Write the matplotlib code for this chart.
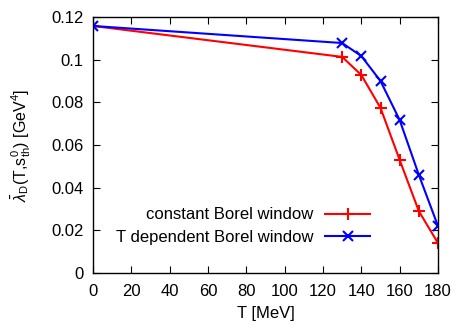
import matplotlib
matplotlib.use("Agg")
import matplotlib.pyplot as plt
from matplotlib.ticker import FuncFormatter

plt.rcParams['font.family'] = ['Liberation Sans', 'DejaVu Sans']
plt.rcParams['mathtext.fontset'] = 'custom'
plt.rcParams['mathtext.rm'] = 'Liberation Sans'
plt.rcParams['mathtext.it'] = 'Liberation Sans:italic'

T = [0, 130, 140, 150, 160, 170, 180]
const_borel = [0.1158, 0.1013, 0.0928, 0.0774, 0.0530, 0.0290, 0.0140]
tdep_borel = [0.1158, 0.1078, 0.1017, 0.0900, 0.0717, 0.0460, 0.0220]
labels = ["constant Borel window", "T dependent Borel window"]
xticks = [0, 20, 40, 60, 80, 100, 120, 140, 160, 180]
yticks = [0, 0.02, 0.04, 0.06, 0.08, 0.1, 0.12]

fs = 12
fig = plt.figure(figsize=(4.69, 3.28), dpi=100)
ax = fig.add_axes([93/469, 1 - 273/328, 345/469, 256/328])

ax.plot(T, const_borel, color='#ff0000', lw=1.5, marker='+', ms=8, mew=1.5, label=labels[0])
ax.plot(T, tdep_borel, color='#0000ff', lw=1.5, marker='x', ms=7, mew=1.5, label=labels[1])

ax.set_xlim(0, 180)
ax.set_ylim(0, 0.12)
ax.set_xticks(xticks)
ax.set_yticks(yticks)
ax.yaxis.set_major_formatter(FuncFormatter(lambda v, p: '%g' % round(v, 4)))
ax.tick_params(direction='in', top=True, right=True, length=5, width=0.8,
               labelsize=fs, colors='black')
ax.tick_params(axis='x', pad=8)
ax.tick_params(axis='y', pad=7)
for s in ax.spines.values():
    s.set_linewidth(1.0)

ax.set_xlabel('T [MeV]', fontsize=fs, labelpad=5)
ax.set_ylabel(r'$\bar{\lambda}_\mathrm{D}$(T,s$_\mathrm{th}^0$) [GeV$^4$]', fontsize=11.5, labelpad=13)

leg = ax.legend(loc='lower right', bbox_to_anchor=(0.803, 0.11), frameon=False,
                markerfirst=False, fontsize=fs, handlelength=2.7, handletextpad=0.7,
                borderpad=0, borderaxespad=0, labelspacing=0.45)

fig.savefig('out.png', dpi=100)
